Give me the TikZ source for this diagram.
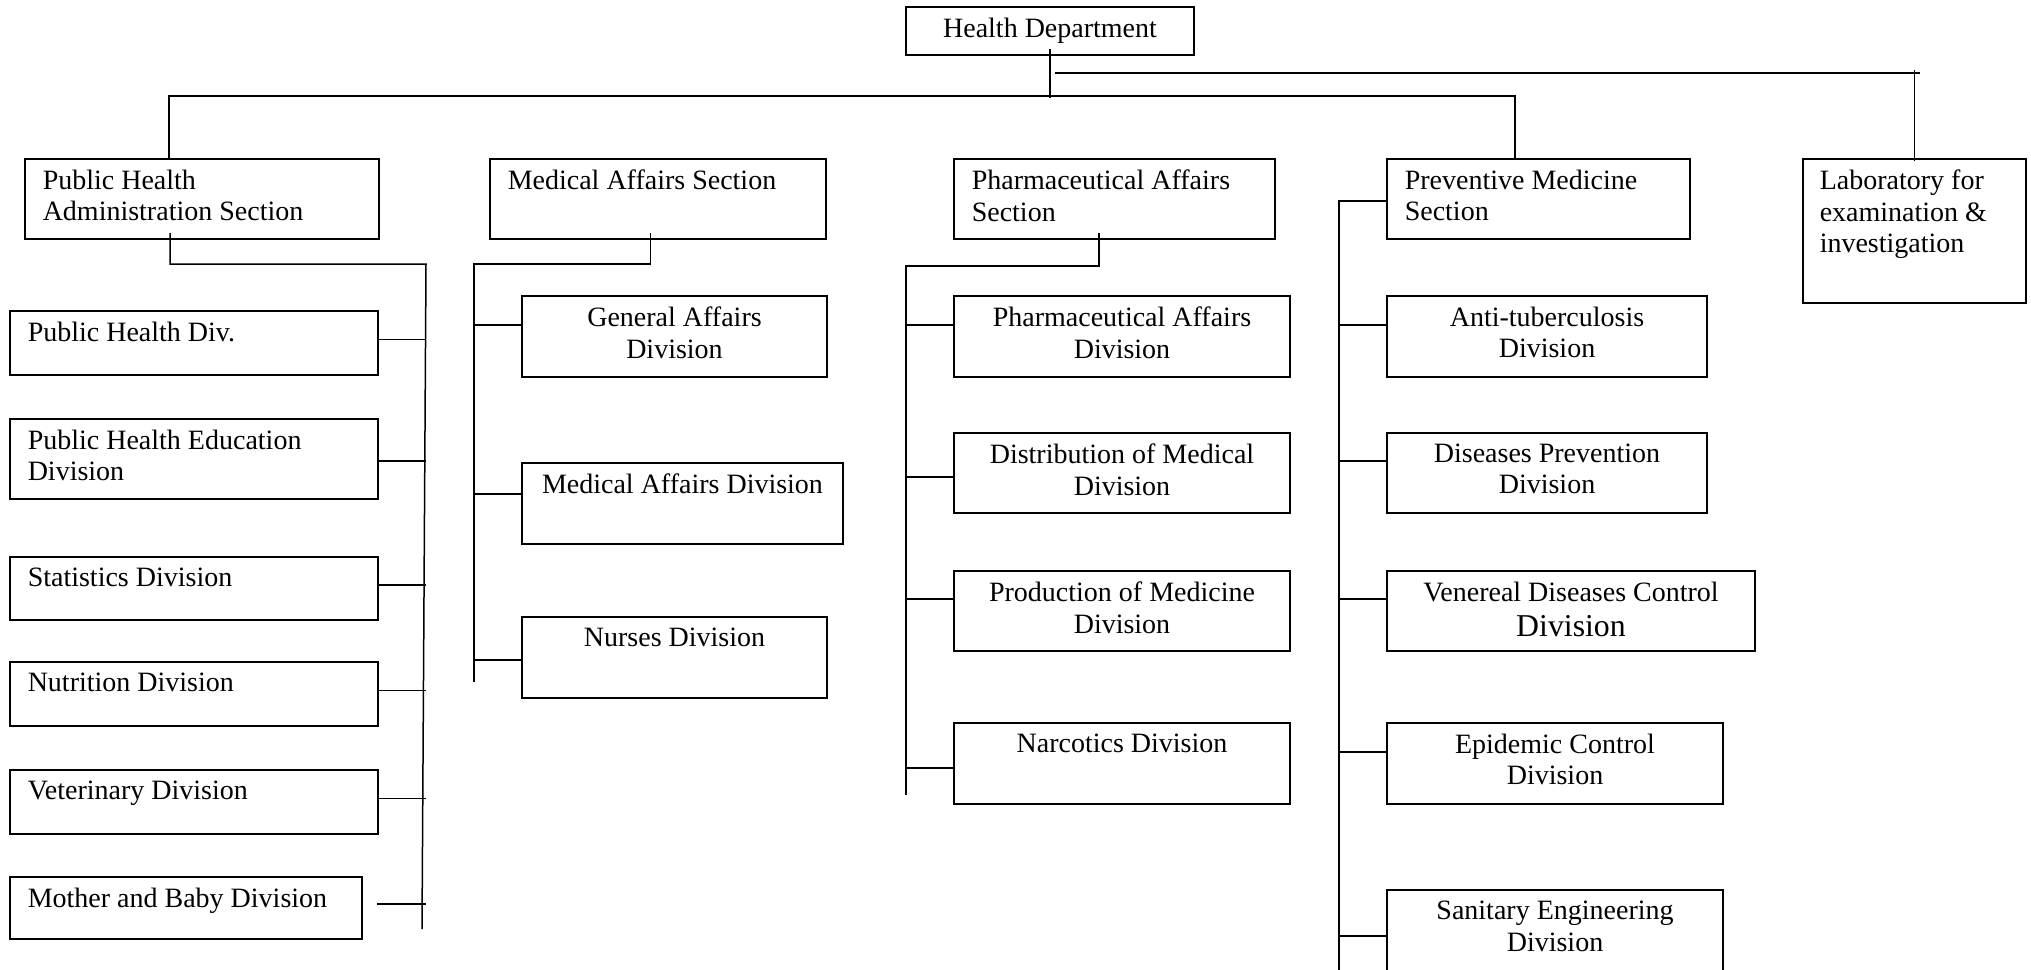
\documentclass[tikz,border=0pt]{standalone}
\usepackage{fontspec}
\setmainfont{Liberation Serif}

\tikzset{
  box/.style={draw, line width=1.5pt, inner sep=0pt, outer sep=0pt},
  lt/.style={anchor=north west, align=left, inner sep=0pt, shift={(17,10)}},
  ct/.style={anchor=north, align=center, inner sep=0pt, shift={(0,10)}},
}

\begin{document}
\begin{tikzpicture}[x=1pt, y=-1pt, line width=1.5pt, font=\fontsize{28}{31.7}\selectfont]

    \useasboundingbox (0,0) rectangle (2031,969);
    \clip (0,0) rectangle (2031,969);

    % top
    \node[box, minimum width=288pt, minimum height=48pt, label={[ct]north:Health Department}] at (1050,31) (HD) {};

    % sections
    \node[box, minimum width=354pt, minimum height=80pt, label={[lt]north west:Public Health\\Administration Section}] at (202,199) (PHA) {};
    \node[box, minimum width=336pt, minimum height=80pt, label={[lt]north west:Medical Affairs Section}] at (658,199) (MA) {};
    \node[box, minimum width=321pt, minimum height=80pt, label={[lt]north west:Pharmaceutical Affairs\\Section}] at (1114.5,199) (PAS) {};
    \node[box, minimum width=303pt, minimum height=80pt, label={[lt]north west:Preventive Medicine\\Section}] at (1538.5,199) (PM) {};
    \node[box, minimum width=223pt, minimum height=144pt, label={[lt, shift={(-1,0)}]north west:Laboratory for\\examination \&\\investigation}] at (1914.5,231) (LAB) {};

    % public health administration
    \node[box, minimum width=368pt, minimum height=64pt, label={[lt]north west:Public Health Div.}] at (194,343) (PHD) {};
    \node[box, minimum width=368pt, minimum height=80pt, label={[lt]north west:Public Health Education\\Division}] at (194,459) (PHE) {};
    \node[box, minimum width=368pt, minimum height=63pt, label={[lt]north west:Statistics Division}] at (194,588.5) (STAT) {};
    \node[box, minimum width=368pt, minimum height=64pt, label={[lt]north west:Nutrition Division}] at (194,694) (NUTR) {};
    \node[box, minimum width=368pt, minimum height=64pt, label={[lt]north west:Veterinary Division}] at (194,802) (VET) {};
    \node[box, minimum width=352pt, minimum height=62pt, label={[lt]north west:Mother and Baby Division}] at (186,908) (MB) {};

    % medical affairs
    \node[box, minimum width=305pt, minimum height=81pt, label={[ct]north:General Affairs\\Division}] at (674.5,336.5) (GA) {};
    \node[box, minimum width=321pt, minimum height=81pt, label={[ct]north:Medical Affairs Division}] at (682.5,503.5) (MAD) {};
    \node[box, minimum width=305pt, minimum height=81pt, label={[ct]north:Nurses Division}] at (674.5,657.5) (NUR) {};

    % pharmaceutical affairs
    \node[box, minimum width=336pt, minimum height=81pt, label={[ct]north:Pharmaceutical Affairs\\Division}] at (1122,336.5) (PAD) {};
    \node[box, minimum width=336pt, minimum height=80pt, label={[ct]north:Distribution of Medical\\Division}] at (1122,473) (DIST) {};
    \node[box, minimum width=336pt, minimum height=80pt, label={[ct]north:Production of Medicine\\Division}] at (1122,611) (PROD) {};
    \node[box, minimum width=336pt, minimum height=81pt, label={[ct]north:Narcotics Division}] at (1122,763.5) (NARC) {};

    % preventive medicine
    \node[box, minimum width=320pt, minimum height=81pt, label={[ct]north:Anti-tuberculosis\\Division}] at (1547,336.5) (AT) {};
    \node[box, minimum width=320pt, minimum height=80pt, label={[ct]north:Diseases Prevention\\Division}] at (1547,473) (DP) {};
    \node[box, minimum width=368pt, minimum height=80pt, label={[ct]north:Venereal Diseases Control\\[4pt]{\fontsize{31.8}{35}\selectfont Division}}] at (1571,611) (VD) {};
    \node[box, minimum width=336pt, minimum height=81pt, label={[ct]north:Epidemic Control\\Division}] at (1555,763.5) (EC) {};
    \node[box, minimum width=336pt, minimum height=110pt, label={[ct]north:Sanitary Engineering\\Division}] at (1555,945) (SE) {};

    \coordinate (busL) at (169,96);
    \coordinate (busR) at (1515,96);
    \coordinate (labbus) at (1055,73);
    \coordinate (phaT) at (426,264);
    \coordinate (phaB) at (422,929);
    \coordinate (maT) at (474,264);
    \coordinate (maB) at (474,682);
    \coordinate (pasT) at (906,266);
    \coordinate (pasB) at (906,795);
    \coordinate (pmB) at (1339,975);

    % department to sections
    \draw ([yshift=6pt]HD.south) -- (HD.south |- 0,98);
    \draw (PHA.north -| busL) -- (busL) -- (busR) -- (PM.north -| busR);
    \draw (labbus) -- ([xshift=5pt]labbus -| LAB.north);
    \draw ([yshift=-2pt]LAB.north) -- (LAB.north |- 0,70);

    % sections to divisions
    \draw ([xshift=-32pt, yshift=6pt]PHA.south) |- (phaT) -- (phaB);
    \draw ([xshift=-7.5pt, yshift=6pt]MA.south) |- (maT) -- (maB);
    \draw ([xshift=-15.5pt, yshift=6pt]PAS.south) |- (pasT) -- (pasB);
    \draw ([yshift=-2pt]PM.west) -| (pmB);

    \foreach \b/\t in {PHD/339.5, PHE/461, STAT/585, NUTR/690.5, VET/798.5}
        \draw (\b.east |- 0,\t) -- (phaT |- 0,\t);
    \draw ([xshift=15pt]MB.east |- 0,904) -- (phaT |- 0,904);
    \foreach \b/\t in {GA/325, MAD/494, NUR/660}
        \draw (\b.west |- 0,\t) -- (maT |- 0,\t);
    \foreach \b/\t in {PAD/325, DIST/477, PROD/599, NARC/768}
        \draw (\b.west |- 0,\t) -- (pasT |- 0,\t);
    \foreach \b/\t in {AT/325, DP/461, VD/599, EC/752, SE/936}
        \draw (\b.west |- 0,\t) -- (pmB |- 0,\t);

\end{tikzpicture}
\end{document}
